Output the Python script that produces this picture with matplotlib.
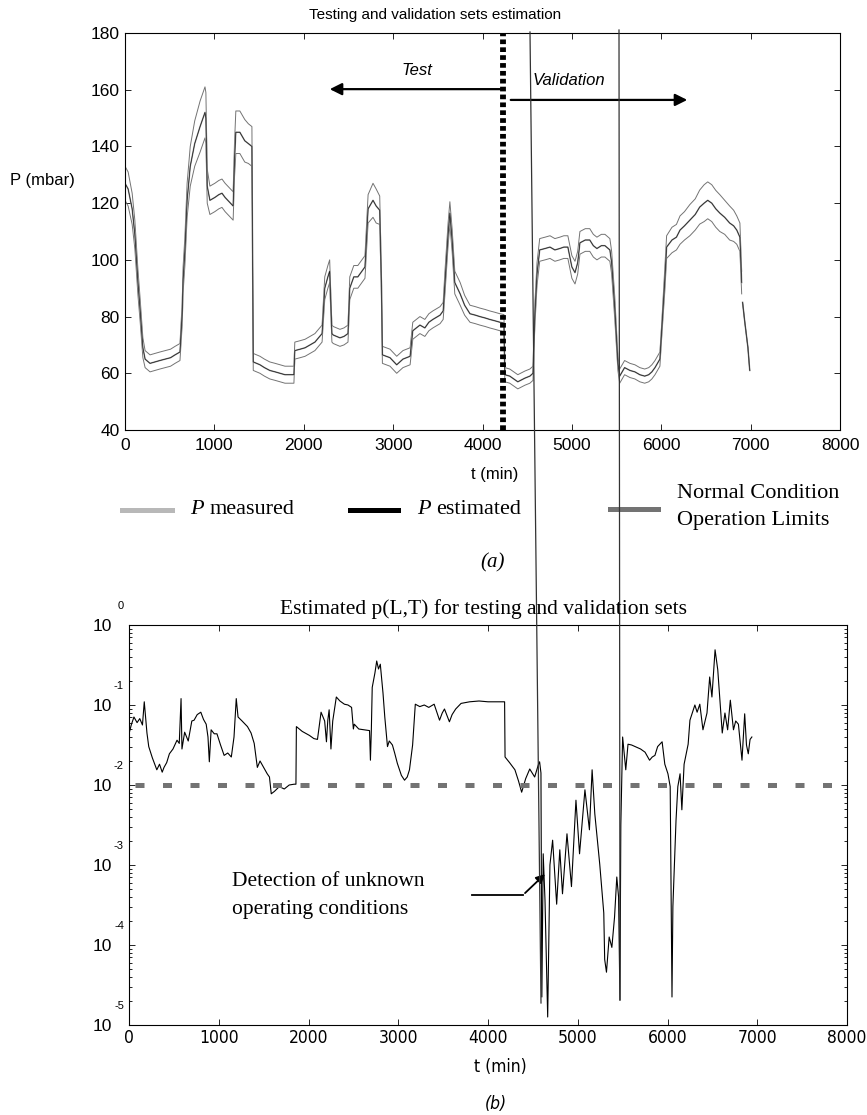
import numpy as np
import matplotlib
matplotlib.use("Agg")
import matplotlib.pyplot as plt
from matplotlib.lines import Line2D
from matplotlib import font_manager
from matplotlib.ticker import LogLocator, NullFormatter, NullLocator

nan = float("nan")

# ---- panel (a): pressure, estimated value and operation limits (half band) ----
t_top = [0, 35, 80, 110, 145, 170, 200, 225, 280, 335, 390, 450, 510, 560, 615,
         640, 650, 670, 695, 730, 780, 840, 895, 905, 920, 950, 1005, 1050, 1085, 1120,
         1150, 1210, 1225, 1240, 1285, 1340, 1380, 1420,
         1435, 1510, 1560, 1620, 1680, 1735, 1790, 1845, 1890, 1900, 1960, 2015, 2070, 2125, 2205,
         2235, 2270, 2290, 2315, 2330, 2405, 2450, 2495, 2515, 2560, 2605, 2650, 2685, 2720,
         2775, 2810, 2850,
         2870, 2880, 2965, 3040, 3110, 3190, 3220, 3300, 3355, 3400, 3445, 3525, 3560, 3580,
         3615, 3635, 3660, 3690, 3750, 3800, 3860, 3920, 3970, 4030, 4080, 4140, 4195, 4240,
         4250, 4305, 4350, 4395, 4475, 4530, 4565,
         4585, 4610, 4640, 4700, 4755, 4810, 4865, 4910, 4955, 5000, 5035, 5065, 5090, 5150,
         5200, 5240, 5280, 5330, 5370, 5425, 5445, 5480,
         5515, 5535, 5590, 5650, 5705, 5760, 5815, 5860, 5895, 5930, 5985, 6005,
         6040, 6060, 6120, 6170, 6210, 6260, 6320, 6380, 6430, 6480, 6520, 6565, 6610, 6655,
         6710, 6765, 6810, 6845, 6880, 6900,
         6905,
         6910, 6935, 6970, 6990]
p_est = [127, 125, 118, 109, 92, 82, 69, 65, 63.5, 64, 64.5, 65, 65.5, 66.5, 67.5,
         81, 93, 103, 121, 133, 141, 147, 152, 150, 126, 121, 122, 123, 123.5, 122,
         121, 119, 135, 145, 145, 142, 141, 140,
         64, 63, 62, 61, 60.5, 60, 59.5, 59.5, 59.5, 68, 68.5, 69, 70, 71, 74,
         90, 94, 96, 74, 73.5, 72.5, 73, 74, 90, 94, 94, 96, 97.5, 118,
         121, 119, 117.5,
         90, 66.5, 65.5, 63, 65, 66, 75, 77, 76, 78, 79, 80.5, 82, 92,
         109, 116.5, 107, 92, 88, 84, 81, 80.5, 80, 79.5, 79, 78.5, 78, 77.7,
         59.5, 59, 58, 57, 58.3, 59, 60,
         80, 95, 103.5, 104, 104.5, 103.5, 104, 104.5, 104.5, 97.5, 95.5, 99, 106, 107,
         107, 105, 104, 105, 105, 103.5, 99, 83,
         63.5, 59, 62, 61, 60.5, 59.5, 59, 59.5, 60.5, 62, 65, 75,
         93, 104.5, 107, 108, 110.5, 112, 114, 116, 118.6, 120, 121, 120, 118, 116.5,
         115, 113, 112, 110.5, 108, 92,
         nan,
         85, 78, 69, 61]
band = [6, 6, 5.5, 5, 4.5, 4, 3.5, 3, 3, 3, 3, 3, 3, 3, 3,
        4, 4.5, 5, 6, 7, 8, 9, 9, 9, 6, 5, 5, 5, 5, 5,
        5, 5, 6, 7.5, 7.5, 7.5, 7, 7,
        3, 3, 3, 3, 3, 3, 3, 3, 3, 3, 3, 3, 3, 3, 3,
        4, 4, 4, 3, 3, 3, 3, 3, 4, 4, 4, 4, 4, 5,
        6, 6, 5,
        4, 3, 3, 3, 3, 3, 3, 3, 3, 3, 3, 3, 3, 4,
        4, 4, 4, 4, 4, 3.5, 3, 3, 3, 3, 3, 3, 3, 3,
        2.5, 2.5, 2.5, 2.5, 2.5, 2.5, 2.5,
        4, 4, 4, 4, 4, 4, 4, 4, 4, 4, 4, 4, 4, 4,
        4, 4, 4, 4, 4, 4, 4, 4,
        2.5, 2.5, 2.5, 2.5, 2.5, 2.5, 2.5, 2.5, 2.5, 2.5, 2.5, 2.5,
        4, 4, 4.5, 4.5, 5, 5, 5.5, 5.5, 6, 6.5, 6.5, 6.5, 6.5, 6.5,
        6, 6, 5.5, 5, 5, 4,
        nan,
        0, 0, 0, 0]

# ---- panel (b): estimated p(L,T), as log10 values ----
t_bot = [0, 25, 55, 90, 120, 150, 170, 200, 220, 260, 310, 340, 370, 390, 420, 450, 490,
         535, 560, 580, 590, 620, 660, 700, 725, 760, 800, 830, 860, 880, 895, 915, 950,
         980, 1020, 1060, 1100, 1140, 1170, 1195, 1215, 1260, 1320, 1360, 1395, 1430, 1460,
         1485, 1540, 1565, 1585, 1620, 1675, 1730, 1785, 1840, 1860, 1865, 1930, 2010, 2060,
         2100, 2140, 2180, 2200, 2215, 2230, 2250, 2270, 2310, 2350, 2400, 2440, 2480, 2500,
         2510, 2560, 2620, 2680, 2690, 2700, 2710, 2740, 2760, 2780, 2800, 2830, 2850, 2880,
         2900, 2935, 2960, 2990, 3035, 3070, 3100, 3125, 3160, 3190, 3240, 3290, 3340, 3400,
         3460, 3490, 3515, 3570, 3600, 3640, 3700, 3795, 3900, 4000, 4130, 4185, 4190, 4240,
         4300, 4340, 4375, 4420, 4465, 4520, 4560, 4575, 4590, 4600, 4615, 4635, 4665, 4690,
         4720, 4765, 4800, 4830, 4880, 4930, 4980, 5020, 5080, 5130, 5160, 5190, 5245, 5290,
         5300, 5320, 5350, 5380, 5410, 5435, 5455, 5470, 5480, 5500, 5535, 5560, 5600, 5640,
         5700, 5750, 5800, 5830, 5860, 5890, 5940, 5970, 6005, 6030, 6050, 6060, 6095, 6115,
         6140, 6160, 6185, 6230, 6250, 6305, 6330, 6360, 6395, 6440, 6470, 6495, 6530, 6560,
         6610, 6640, 6670, 6700, 6735, 6760, 6790, 6830, 6860, 6880, 6900, 6920, 6940]
log_p = [-1.36, -1.25, -1.15, -1.22, -1.17, -1.25, -0.96, -1.35, -1.52, -1.66, -1.81, -1.74,
         -1.84, -1.78, -1.72, -1.61, -1.55, -1.44, -1.48, -0.92, -1.55, -1.34, -1.45, -1.2,
         -1.19, -1.12, -1.09, -1.18, -1.24, -1.4, -1.71, -1.31, -1.36, -1.36, -1.5, -1.63,
         -1.6, -1.65, -1.4, -0.92, -1.15, -1.2, -1.27, -1.35, -1.48, -1.78, -1.7, -1.75,
         -1.86, -1.9, -2.11, -2.08, -2.02, -2.05, -2.0, -1.99, -1.99, -1.27, -1.33, -1.38,
         -1.42, -1.43, -1.09, -1.2, -1.46, -1.19, -1.06, -1.55, -1.2, -0.9, -0.95, -0.99,
         -1.0, -1.03, -1.3, -1.24, -1.3, -1.31, -1.32, -1.69, -1.32, -0.78, -0.6, -0.45,
         -0.55, -0.49, -0.85, -1.15, -1.52, -1.45, -1.5, -1.6, -1.73, -1.88, -1.94, -1.9,
         -1.81, -1.5, -0.99, -1.02, -1.0, -1.03, -0.99, -1.19, -1.1, -1.05, -1.21, -1.12,
         -1.05, -0.98, -0.96, -0.95, -0.96, -0.96, -0.96, -1.65, -1.72, -1.81, -1.95, -2.09,
         -1.92, -1.8, -1.9, -1.75, -1.71, -1.85, -4.65, -2.86, -3.44, -4.9, -3.0, -2.69,
         -3.49, -2.81, -3.36, -2.61, -3.27, -2.19, -2.86, -2.06, -2.56, -1.81, -2.36, -2.99,
         -3.6, -4.18, -4.34, -3.9, -4.03, -3.65, -3.15, -3.4, -4.69, -2.5, -1.4, -1.81,
         -1.49, -1.5, -1.52, -1.55, -1.59, -1.69, -1.65, -1.63, -1.52, -1.46, -1.74, -1.86,
         -2.02, -4.65, -3.52, -2.44, -2.02, -1.86, -2.31, -1.74, -1.49, -1.19, -1.0, -1.09,
         -0.99, -1.31, -1.1, -0.65, -0.9, -0.31, -0.56, -1.35, -1.1, -1.31, -0.94, -1.31,
         -1.2, -1.24, -1.69, -1.11, -1.5, -1.61, -1.43, -1.4]

x_ticks = [0, 1000, 2000, 3000, 4000, 5000, 6000, 7000, 8000]
y_ticks_top = [40, 60, 80, 100, 120, 140, 160, 180]
threshold = 1e-2
split_t = 4230

W, H = 867, 1115
fx = lambda px: px / W
fy = lambda py: 1 - py / H

sans = "Liberation Sans"
serif = "Liberation Serif"
fonts = font_manager.fontManager.ttflist
if any(f.name == "Liberation Sans Narrow" for f in fonts):
    narrow = dict(family="Liberation Sans Narrow")
elif any(f.name == "DejaVu Sans" and f.stretch == "condensed" for f in fonts):
    narrow = dict(family="DejaVu Sans", stretch="condensed")
else:
    narrow = dict(family=sans)
plt.rcParams["font.family"] = sans

fig = plt.figure(figsize=(8.67, 11.15), dpi=100)

# ---------------- (a) ----------------
ax1 = fig.add_axes([fx(125), fy(430), (840 - 125) / W, (430 - 33) / H])
t_a = np.array(t_top, dtype=float)
p_a = np.array(p_est, dtype=float)
b_a = np.array(band, dtype=float)
ax1.plot(t_a, p_a + b_a, color="0.45", lw=0.7)
ax1.plot(t_a, p_a - b_a, color="0.45", lw=0.7)
ax1.plot(t_a, p_a, color="0.6", lw=1.1)
ax1.plot(t_a, p_a, color="0.1", lw=0.5)
ax1.plot([split_t, split_t], [40, 180], color="black", lw=4.2,
         dashes=(0.8, 0.55), dash_capstyle="butt")

ax1.annotate("", xy=(2260, 160.2), xytext=(4252, 160.2),
             arrowprops=dict(arrowstyle="-|>", color="black", lw=1.6, mutation_scale=18))
ax1.annotate("", xy=(6322, 156.4), xytext=(4285, 156.4),
             arrowprops=dict(arrowstyle="-|>", color="black", lw=1.6, mutation_scale=18))
ax1.text(3267, 166.6, "Test", style="italic", fontsize=12, ha="center", va="center")
ax1.text(4968, 163.4, "Validation", style="italic", fontsize=12, ha="center", va="center")

ax1.set_xlim(0, 8000)
ax1.set_ylim(40, 180)
ax1.set_xticks(x_ticks)
ax1.set_yticks(y_ticks_top)
ax1.tick_params(direction="in", top=True, right=True, length=4, width=0.6,
                labelsize=12.5, pad=4)
ax1.tick_params(axis="x", pad=6)
for s in ax1.spines.values():
    s.set_linewidth(0.8)

fig.text(fx(435), fy(15), "Testing and validation sets estimation", fontsize=11,
         ha="center", va="center")
fig.text(fx(42), fy(180), "P (mbar)", fontsize=12, ha="center", va="center")
fig.text(fx(495), fy(475), "t (min)", fontsize=12, ha="center", va="center")

# legend row
fig.add_artist(Line2D([fx(122), fx(172)], [fy(510), fy(510)], color="0.72", lw=3.6))
fig.add_artist(Line2D([fx(350), fx(398)], [fy(510), fy(510)], color="black", lw=3.6))
fig.add_artist(Line2D([fx(610), fx(658)], [fy(509), fy(509)], color="0.45", lw=3.6))
fig.text(fx(190), fy(510), "P", family=serif, style="italic", fontsize=16, va="center")
fig.text(fx(210), fy(510), "measured", family=serif, fontsize=16, va="center")
fig.text(fx(417), fy(510), "P", family=serif, style="italic", fontsize=16, va="center")
fig.text(fx(436), fy(510), "estimated", family=serif, fontsize=16, va="center")
fig.text(fx(677), fy(493), "Normal Condition", family=serif, fontsize=16, va="center")
fig.text(fx(677), fy(521), "Operation Limits", family=serif, fontsize=16, va="center")
fig.text(fx(493), fy(563), "(a)", family=serif, style="italic", fontsize=15,
         ha="center", va="center")

# ---------------- (b) ----------------
ax2 = fig.add_axes([fx(129), fy(1025), (847 - 129) / W, (1025 - 625) / H])
ax2.plot(t_bot, 10 ** np.array(log_p), color="black", lw=0.8)
ax2.plot([70, 7980], [threshold, threshold], color="0.45", lw=3.6,
         dashes=(1.8, 3.7), dash_capstyle="butt")
ax2.set_yscale("log")
ax2.set_xlim(0, 8000)
ax2.set_ylim(1e-5, 1)
decades = [1e0, 1e-1, 1e-2, 1e-3, 1e-4, 1e-5]
ax2.set_yticks(decades)
ax2.set_yticklabels(["10"] * len(decades), fontsize=12.5)
ax2.yaxis.set_minor_locator(LogLocator(base=10, subs=np.arange(2, 10)))
ax2.yaxis.set_minor_formatter(NullFormatter())
ax2.set_xticks(x_ticks)
ax2.set_xticklabels([str(v) for v in x_ticks], fontsize=12.5, **narrow)
ax2.xaxis.set_minor_locator(NullLocator())
ax2.tick_params(which="both", direction="in", top=True, right=True, width=0.6)
ax2.tick_params(which="major", length=4)
ax2.tick_params(which="minor", length=2.5)
ax2.tick_params(axis="y", pad=12)
ax2.tick_params(axis="x", pad=3)
for s in ax2.spines.values():
    s.set_linewidth(0.8)
for k, d in enumerate(decades):
    ax2.annotate("0" if k == 0 else "-%d" % k, xy=(0, d),
                 xycoords=("axes fraction", "data"), xytext=(-5, 19),
                 textcoords="offset pixels", ha="right", va="center", fontsize=8)

ax2.plot([3822, 4390], [10 ** -3.375, 10 ** -3.375], color="black", lw=1.3)
ax2.annotate("", xy=(4657, 10 ** -3.09), xytext=(4390, 10 ** -3.375),
             arrowprops=dict(arrowstyle="-|>", color="black", lw=1.3, mutation_scale=13))
ax2.text(1148, 10 ** -3.21, "Detection of unknown", family=serif, fontsize=15.5,
         ha="left", va="center")
ax2.text(1148, 10 ** -3.56, "operating conditions", family=serif, fontsize=15.5,
         ha="left", va="center")

fig.text(fx(483), fy(609), "Estimated p(L,T) for testing and validation sets",
         family=serif, fontsize=15.5, ha="center", va="center")
fig.text(fx(500), fy(1067), "t (min)", fontsize=12.5, ha="center", va="center", **narrow)
fig.text(fx(496), fy(1104), "(b)", style="italic", fontsize=12.5,
         ha="center", va="center", **narrow)

# hand-drawn markers spanning both panels
fig.add_artist(Line2D([fx(530), fx(541)], [fy(32), fy(1003)], color="0.2", lw=0.9))
fig.add_artist(Line2D([fx(619), fx(620)], [fy(30), fy(1000)], color="0.2", lw=0.9))

fig.savefig("out.png", dpi=100)
